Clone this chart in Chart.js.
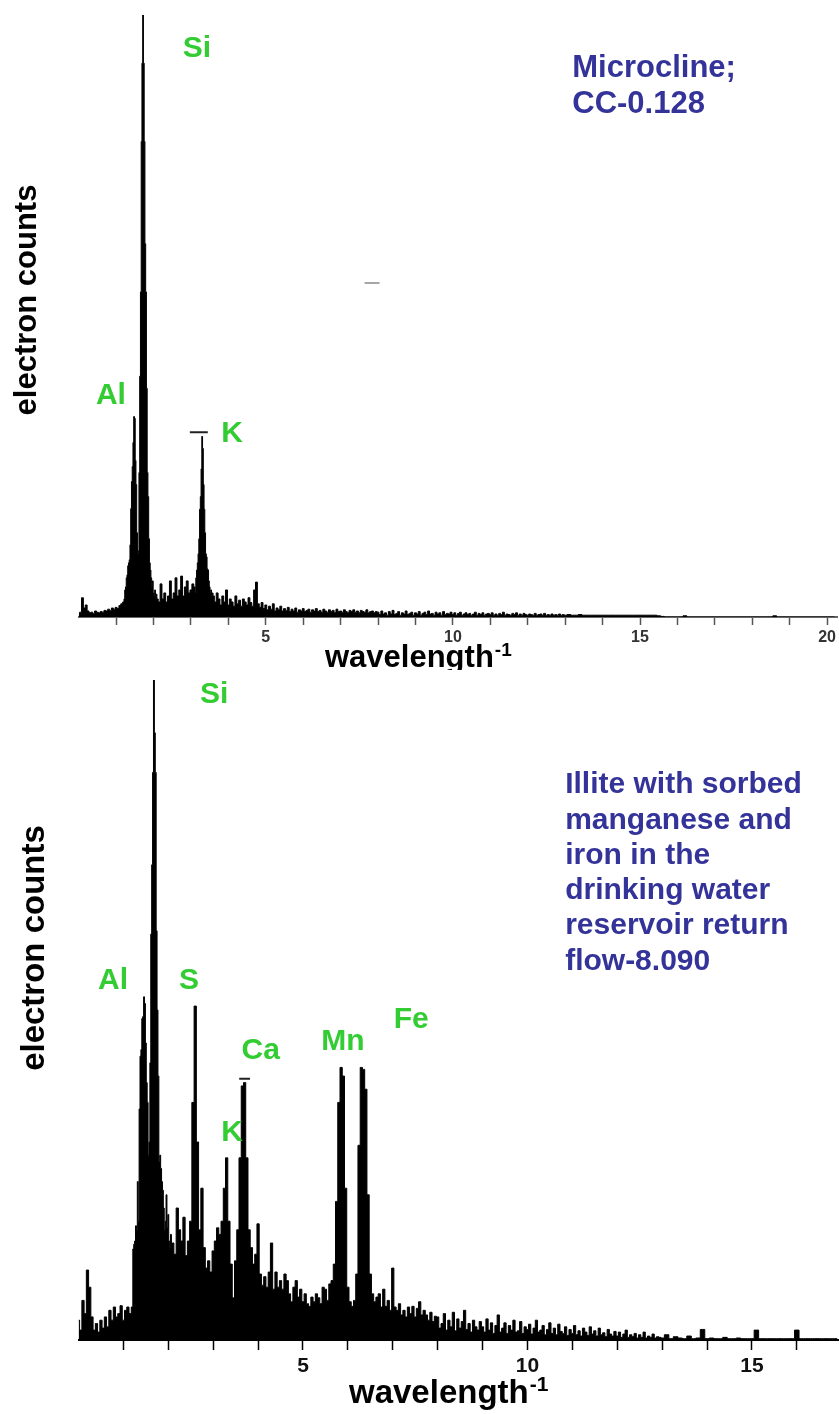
<!DOCTYPE html>
<html><head><meta charset="utf-8">
<script src="https://cdn.jsdelivr.net/npm/chart.js@4/dist/chart.umd.min.js"></script>
<style>
html,body{margin:0;padding:0;background:#fff;}
body{width:839px;height:1414px;overflow:hidden;}
canvas{display:block;}
</style></head><body>
<canvas id="topChart" width="839" height="670"></canvas>
<canvas id="bottomChart" width="839" height="744"></canvas>
<script>
// ---------- DATA (energy channels, counts as % of full scale) ----------
// Top spectrum: Microcline
const TOP_A_START = 0.00, TOP_A_STEP = 0.05;
const TOP_A = [0.5,0.8,3.2,1.5,2.0,1.0,0.7,0.8,0.6,1.0,
               0.8,0.7,0.9,0.8,1.1,1.0,1.3,1.1,1.5,1.3,
               1.6,1.4,1.9,2.2];
const TOP_B_START = 1.20, TOP_B_STEP = 0.02;   // Al + Si peaks
const TOP_B = [2.5,3.0,4.5,5.0,6.5,7.0,8.5,9.0,9.5,12.0,
               18.0,22.5,25.0,29.0,33.3,33.0,26.0,22.0,14.0,10.5,
               11.0,24.0,40.0,54.0,79.0,92.0,100,92.0,79.0,62.0,
               54.0,38.0,24.0,20.0,13.0,9.0,7.8,6.5,5.0,6.0,
               4.0,3.5,4.5,3.0,3.8];
const TOP_C_START = 2.10, TOP_C_STEP = 0.05;
const TOP_C = [3.0,2.5,5.5,3.0,4.0,2.5,3.5,6.0,3.0,4.0,
               6.5,3.5,4.5,6.8,3.5,5.0,6.0,4.0,4.5,5.5];
const TOP_D_START = 3.10, TOP_D_STEP = 0.02;   // K peak
const TOP_D = [5.0,4.0,6.5,7.8,9.0,10.5,13.0,17.9,20.0,24.6,
               30.0,28.0,22.0,17.9,14.0,10.5,10.0,8.0,7.8,6.0,
               5.0,4.0,4.5,3.5,4.0];
const TOP_E_START = 3.60, TOP_E_STEP = 0.05;
const TOP_E = [3.5,2.5,4.0,3.0,2.0,3.5,2.5,4.5,2.0,3.0,
               2.5,1.8,3.5,2.2,2.8,1.8,3.0,2.5,2.0,3.2,
               2.4,1.8,4.5,5.8,2.2,1.6,2.4,1.4,2.0,1.2,
               1.8,1.3,2.2,1.0,1.5,1.2,1.8,1.0,1.4,1.1,
               1.6,0.9,1.3,1.0,1.5,0.8,1.2,1.0,1.4,0.9,
               1.1,1.3,0.8,1.2,1.0,1.4,0.9,1.1,0.8,1.3,
               1.0,0.8,1.2,0.9,1.1,0.7,1.3,0.9,1.0,0.8,
               1.2,0.9,0.7,1.1,0.9,1.2,0.8,1.0,0.7,1.1,
               0.9,0.8,1.2,0.7,0.9,1.0,0.7,0.9];
const TOP_F_START = 8.00, TOP_F_STEP = 0.05;
const TOP_F = [0.8,0.4,1.0,0.5,0.7,0.3,0.9,0.5,1.1,0.4,
               0.6,0.9,0.3,0.7,0.5,1.0,0.4,0.6,0.8,0.3,
               0.7,0.5,0.9,0.3,0.6,0.8,0.4,1.0,0.5,0.6,
               0.3,0.8,0.5,0.7,0.3,0.9,0.4,0.6,0.5,0.8,
               0.4,0.7,0.3,0.6,0.8,0.3,0.5,0.7,0.4,0.6,
               0.3,0.5,0.8,0.3,0.6,0.4,0.7,0.3,0.5,0.6,
               0.4,0.7,0.3,0.5,0.3,0.6,0.4,0.8,0.3,0.5,
               0.4,0.3,0.6,0.4,0.7,0.3,0.5,0.3,0.6,0.4,
               0.3,0.5,0.4,0.3,0.6,0.3,0.4,0.5,0.3,0.6,
               0.3,0.4,0.3,0.5,0.3,0.4,0.3,0.5,0.3,0.4];
const TOP_G_START = 13.00, TOP_G_STEP = 0.1;
const TOP_G = [0.3,0.4,0.3,0.3,0.4,0.3,0.3,0.3,0.3,0.3,
               0.3,0.3,0.3,0.3,0.3,0.3,0.3,0.3,0.3,0.3,
               0.3,0.3,0.3,0.3,0.3,0.2,0.1,0,0,0,
               0,0,0.2,0,0,0,0,0,0,0,
               0,0,0,0,0,0,0,0,0,0,
               0,0,0,0,0,0,0.2,0,0,0,
               0,0,0,0,0,0,0,0,0,0,
               0,0,0];
const TOP_K_MARK = [{x:2.97,y:30.7},{x:3.45,y:30.7}];
const TOP_STRAY_MARK = [{x:7.64,y:55.5},{x:8.04,y:55.5}];

// Bottom spectrum: Illite with sorbed Mn and Fe
const BOT_A_START = 0.00, BOT_A_STEP = 0.05;
const BOT_A = [3.0,1.5,6.0,4.0,10.6,8.0,3.5,1.5,2.5,1.2,
               3.0,1.8,3.5,2.0,4.5,3.0,5.0,3.5,4.0,5.2,
               3.0,4.5,5.0,4.0];
const BOT_B_START = 1.20, BOT_B_STEP = 0.02;   // Al + Si peaks
const BOT_B = [5.0,13.8,14.5,15.0,17.3,16.5,24.0,18.0,35.0,43.0,
               44.0,48.7,49.0,52.0,51.0,45.0,39.0,36.0,28.0,30.0,
               42.0,61.5,72.0,86.0,100,92.0,86.0,62.0,50.0,40.0,
               27.0,28.0,26.0,24.0,22.7,20.0,16.7,18.0,22.0,17.0,
               19.0,15.0,14.0,16.0,14.7];
const BOT_C_START = 2.10, BOT_C_STEP = 0.05;   // S, K, Ca, Mn, Fe
const BOT_C = [14.7,13.0,20.0,16.7,15.0,18.6,12.8,15.0,18.0,36.0,
               50.6,30.0,16.7,23.0,14.0,10.9,12.0,10.3,13.5,15.0,
               17.0,16.0,18.0,23.0,27.6,18.0,11.5,6.4,12.0,16.7,
               27.6,38.5,39.0,27.6,16.7,14.0,11.5,13.0,17.6,10.0,
               8.3,9.6,8.0,10.3,14.7,7.7,10.3,8.0,9.0,7.7,
               10.0,9.0,7.0,5.8,8.0,9.0,6.5,7.7,5.8,7.0,
               5.5,5.1,6.5,5.8,7.0,6.4,5.5,8.0,7.7,6.0,
               8.5,9.0,11.5,21.0,36.0,41.3,40.0,23.0,8.0,5.8,
               5.1,6.0,10.0,29.5,41.3,41.0,38.0,22.0,10.0,7.0,
               5.8,6.5,7.0,5.0,7.7,5.1,6.0,4.5,10.9,5.0,
               4.5,5.5,3.8,4.5,3.5,5.0,4.0,5.1,3.5,4.8,
               5.8,3.8,4.5,3.8,3.0,4.2,2.8,3.6];
const BOT_D_START = 8.00, BOT_D_STEP = 0.05;
const BOT_D = [3.5,1.8,2.5,4.0,1.5,3.0,2.0,4.2,1.4,3.2,
               1.8,2.8,4.5,1.6,2.5,1.2,3.0,2.0,1.5,2.8,
               2.0,1.2,3.2,1.5,2.6,1.0,2.2,3.8,1.2,1.8,
               2.6,1.0,2.2,1.5,3.0,1.2,1.4,2.8,1.0,2.0,
               1.6,2.4,0.9,1.8,3.0,1.2,1.5,2.2,0.8,1.6,
               2.6,1.0,1.8,0.8,2.4,1.3,1.0,2.0,0.7,1.6,
               1.0,2.2,0.8,1.4,0.6,1.8,1.2,0.7,2.0,0.9,
               1.4,0.6,1.8,0.8,1.1,0.5,1.6,0.9,0.6,1.3,
               0.6,1.2,0.4,0.9,1.5,0.4,0.8,0.5,1.0,0.3,
               0.8,0.4,1.2,0.3,0.6,0.4,0.9,0.3,0.5,0.4];
const BOT_E_START = 13.00, BOT_E_STEP = 0.1;
const BOT_E = [0.3,0.8,0.2,0.5,0.3,0.2,0.6,0.2,0.3,1.6,
               0.2,0.3,0.2,0.2,0.4,0.2,0.2,0.3,0.2,0.2,
               0.2,1.5,0.2,0.2,0.2,0.2,0.2,0.2,0.2,0.2,
               1.5,0.2,0.2,0.2,0.2,0.2,0.2,0.2,0.2,0.2];
const BOT_CA_MARK = [{x:3.58,y:39.6},{x:3.82,y:39.6}];

// Axis ranges and ticks
const TOP_X_MAX = 20.29, BOT_X_MAX = 16.94;
const Y_MAX = 100;
const TICK_STEP = 1, LABEL_EVERY = 5;

// Text
const X_TITLE = 'wavelength', X_TITLE_SUP = '-1';
const Y_TITLE = 'electron counts';
const TOP_LABELS = [{text:'Si',x:3.16,y:94.4},{text:'Al',x:0.86,y:36.7},{text:'K',x:4.10,y:30.4}];
const TOP_NOTE = ['Microcline;','CC-0.128'];
const BOT_LABELS = [{text:'Si',x:3.02,y:97.7},{text:'Al',x:0.77,y:54.5},{text:'S',x:2.46,y:54.5},
                    {text:'Ca',x:4.06,y:43.9},{text:'K',x:3.42,y:31.4},{text:'Mn',x:5.89,y:45.2},
                    {text:'Fe',x:7.41,y:48.5}];
const BOT_NOTE = ['Illite with sorbed','manganese and','iron in the','drinking water','reservoir return','flow-8.090'];

// ---------- helpers ----------
const FONT = '"Liberation Sans", Arial, Helvetica, sans-serif';

function channels(start, step, counts) {
  return counts.map((c, i) => ({ x: Math.round((start + i * step) * 1000) / 1000, y: c }));
}
const topSpectrum = [].concat(
  channels(TOP_A_START, TOP_A_STEP, TOP_A), channels(TOP_B_START, TOP_B_STEP, TOP_B),
  channels(TOP_C_START, TOP_C_STEP, TOP_C), channels(TOP_D_START, TOP_D_STEP, TOP_D),
  channels(TOP_E_START, TOP_E_STEP, TOP_E), channels(TOP_F_START, TOP_F_STEP, TOP_F),
  channels(TOP_G_START, TOP_G_STEP, TOP_G));
const botSpectrum = [].concat(
  channels(BOT_A_START, BOT_A_STEP, BOT_A), channels(BOT_B_START, BOT_B_STEP, BOT_B),
  channels(BOT_C_START, BOT_C_STEP, BOT_C), channels(BOT_D_START, BOT_D_STEP, BOT_D),
  channels(BOT_E_START, BOT_E_STEP, BOT_E));

const annotPlugin = {
  id: 'annot',
  afterDatasetsDraw(chart, args, o) {
    const ctx = chart.ctx, xs = chart.scales.x, ys = chart.scales.y;
    ctx.save();
    ctx.textBaseline = 'middle';
    ctx.font = `bold ${o.labelSize}px ${FONT}`;
    ctx.fillStyle = o.labelColor;
    ctx.textAlign = 'center';
    o.labels.forEach(l => ctx.fillText(l.text, xs.getPixelForValue(l.x), ys.getPixelForValue(l.y)));
    ctx.font = `bold ${o.noteSize}px ${FONT}`;
    ctx.fillStyle = o.noteColor;
    ctx.textAlign = 'left';
    const nx = xs.getPixelForValue(o.noteX), ny = ys.getPixelForValue(o.noteY);
    o.noteLines.forEach((t, i) => ctx.fillText(t, nx, ny + i * o.noteLineHeight));
    ctx.restore();
  },
  afterDraw(chart, args, o) {
    const ctx = chart.ctx;
    ctx.save();
    ctx.fillStyle = '#000';
    ctx.textBaseline = 'alphabetic';
    ctx.textAlign = 'left';
    ctx.font = `bold ${o.xTitleSize}px ${FONT}`;
    ctx.fillText(X_TITLE, o.xTitleLeft, o.xTitleBaseline);
    const w = ctx.measureText(X_TITLE).width;
    ctx.font = `bold ${o.supSize}px ${FONT}`;
    ctx.fillText(X_TITLE_SUP, o.xTitleLeft + w + 1, o.xTitleBaseline - o.supRaise);
    ctx.font = `bold ${o.yTitleSize}px ${FONT}`;
    ctx.translate(o.yTitleX, o.yTitleCenter);
    ctx.rotate(-Math.PI / 2);
    ctx.textAlign = 'center';
    ctx.fillText(Y_TITLE, 0, 0);
    ctx.restore();
  }
};

function makeChart(id, cfg) {
  return new Chart(document.getElementById(id), {
    type: 'line',
    data: {
      datasets: [
        { data: cfg.spectrum, stepped: 'middle', fill: 'origin', backgroundColor: '#000',
          borderColor: '#000', borderWidth: 1, pointRadius: 0, tension: 0 },
        ...cfg.marks.map(m => ({ data: m.data, borderColor: m.color, borderWidth: m.width,
          pointRadius: 0, fill: false, tension: 0 }))
      ]
    },
    options: {
      responsive: false, animation: false, devicePixelRatio: 1, events: [],
      layout: { padding: cfg.padding },
      plugins: { legend: { display: false }, tooltip: { enabled: false }, annot: cfg.annot },
      scales: {
        x: {
          type: 'linear', min: 0, max: cfg.xMax,
          afterFit: s => { s.height = cfg.axisHeight; },
          afterBuildTicks: s => {
            const t = [];
            for (let v = TICK_STEP; v <= s.max + 1e-9; v += TICK_STEP) t.push({ value: v });
            s.ticks = t;
          },
          ticks: { stepSize: TICK_STEP, autoSkip: false, maxRotation: 0, minRotation: 0,
                   padding: cfg.tickPad, color: cfg.tickTextColor,
                   font: { family: FONT, size: cfg.tickSize, weight: cfg.tickWeight },
                   callback: v => (v % LABEL_EVERY === 0 ? String(v) : '') },
          grid: { display: true, drawOnChartArea: false, drawTicks: true, tickLength: cfg.tickLen,
                  tickColor: cfg.tickColor, tickWidth: 1.5 },
          border: { display: true, color: cfg.axisColor, width: 2 }
        },
        y: { display: false, min: 0, max: Y_MAX }
      }
    },
    plugins: [annotPlugin]
  });
}

makeChart('topChart', {
  spectrum: topSpectrum,
  marks: [{ data: TOP_K_MARK, color: '#222', width: 2 }, { data: TOP_STRAY_MARK, color: '#888', width: 1.5 }],
  padding: { left: 78.7, right: 0, top: 15, bottom: 0 },
  xMax: TOP_X_MAX, axisHeight: 53, tickPad: 3, tickSize: 16, tickWeight: 'bold', tickLen: 8,
  tickTextColor: '#333', tickColor: '#555', axisColor: '#666',
  annot: { labels: TOP_LABELS, labelSize: 30, labelColor: '#33CC33',
           noteLines: TOP_NOTE, noteX: 13.19, noteY: 91.2, noteSize: 31, noteLineHeight: 36, noteColor: '#333399',
           xTitleLeft: 325, xTitleBaseline: 667, xTitleSize: 31, supSize: 19, supRaise: 11,
           yTitleX: 36, yTitleCenter: 300, yTitleSize: 31 }
});

makeChart('bottomChart', {
  spectrum: botSpectrum,
  marks: [{ data: BOT_CA_MARK, color: '#222', width: 2 }],
  padding: { left: 78.5, right: 0, top: 10, bottom: 0 },
  xMax: BOT_X_MAX, axisHeight: 74, tickPad: 4, tickSize: 21, tickWeight: 'bold', tickLen: 10,
  tickTextColor: '#111', tickColor: '#000', axisColor: '#000',
  annot: { labels: BOT_LABELS, labelSize: 30, labelColor: '#33CC33',
           noteLines: BOT_NOTE, noteX: 10.84, noteY: 84.1, noteSize: 30, noteLineHeight: 35.3, noteColor: '#333399',
           xTitleLeft: 349, xTitleBaseline: 733, xTitleSize: 33, supSize: 21, supRaise: 12,
           yTitleX: 44, yTitleCenter: 278, yTitleSize: 33 }
});
</script>
</body></html>
